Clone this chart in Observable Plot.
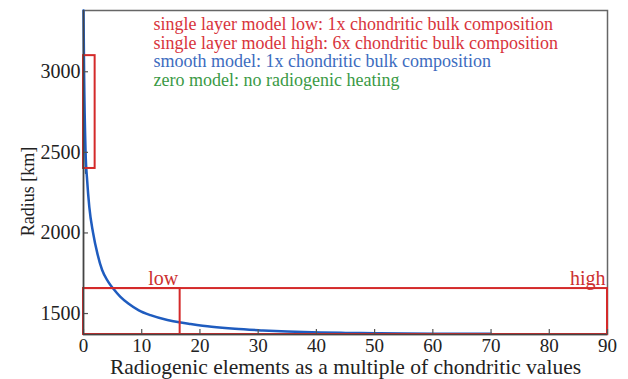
<!DOCTYPE html>
<html>
<head>
<meta charset="utf-8">
<script src="https://cdn.jsdelivr.net/npm/d3@7"></script>
<script src="https://cdn.jsdelivr.net/npm/@observablehq/plot@0.6"></script>
<style>
  html, body { margin: 0; padding: 0; background: #fff; }
  #chart svg { display: block; }
  #chart svg, #chart svg text { font-family: "Liberation Serif", "Times New Roman", serif !important; }
</style>
</head>
<body>
<div id="chart"></div>
<script>
// ---- data ----
const smoothX = [0, 0.1, 0.35, 0.63, 1.0, 1.65, 2.4, 3.2, 4.2, 5.1, 6.3, 7.7, 9.5, 11.5, 14.4, 16.7, 18.4, 22, 26, 30.8, 35, 40.7, 45, 50, 55, 60, 65, 70];
const smoothR = [3380, 3000, 2510, 2325, 2160, 2000, 1870, 1770, 1700, 1655, 1605, 1562, 1520, 1490, 1460, 1444, 1435, 1418, 1405, 1395, 1388, 1382, 1380, 1378, 1376, 1375, 1374, 1374];

const zeroX = [0.05, 0.35];
const zeroR = [2880, 2370];

const boxX1 = [0, 0, 0];
const boxX2 = [2, 16.6, 90];
const boxR1 = [2400, 1370, 1370];
const boxR2 = [3100, 1655, 1655];

const regionLabels = ["low", "high"];
const regionLabelX = [16.6, 90];
const regionLabelR = [1655, 1655];

const legendLabels = [
  "single layer model low: 1x chondritic bulk composition",
  "single layer model high: 6x chondritic bulk composition",
  "smooth model: 1x chondritic bulk composition",
  "zero model: no radiogenic heating"
];
const legendColors = ["#d8343c", "#d8343c", "#3d6cc0", "#3a9a45"];

const xTicks = [0, 10, 20, 30, 40, 50, 60, 70, 80, 90];
const yTicks = [1500, 2000, 2500, 3000];

// ---- build ----
const W = 628, H = 379, mL = 83, mR = 21, mT = 10, mB = 45;
const innerW = W - mL - mR, innerH = H - mT - mB;
const RED = "#d42a2a", BLUE = "#1f5cbf";
const smooth = smoothX.map((x, i) => ({x, r: smoothR[i]}));
const zero = zeroX.map((x, i) => ({x, r: zeroR[i]}));
const boxes = boxX1.map((x1, i) => ({x1, x2: boxX2[i], r1: boxR1[i], r2: boxR2[i]}));
const labels = regionLabels.map((t, i) => ({t, x: regionLabelX[i], r: regionLabelR[i]}));

const legendMarks = legendLabels.map((t, i) => Plot.text([t], {
  text: d => d, frameAnchor: "top-left", dx: 70, dy: 7 + i * 18.5,
  textAnchor: "start", lineAnchor: "top", fill: legendColors[i], fontSize: 18
}));

const chart = Plot.plot({
  width: W, height: H,
  marginLeft: mL, marginRight: mR, marginTop: mT, marginBottom: mB,
  style: {fontSize: "19px", color: "#222", background: "#fff"},
  x: {domain: [0, 90]},
  y: {domain: [1370, 3380]},
  marks: [
    Plot.frame({stroke: "#666", strokeWidth: 1.5}),
    Plot.line(zero, {x: "x", y: "r", stroke: "#2f4a3c", strokeWidth: 1.3}),
    Plot.line(smooth, {x: "x", y: "r", stroke: BLUE, strokeWidth: 2.5, curve: "monotone-x"}),
    Plot.rect(boxes, {x1: "x1", x2: "x2", y1: "r1", y2: "r2", fill: "none", stroke: RED, strokeWidth: 2}),
    Plot.text(labels, {x: "x", y: "r", text: "t", textAnchor: "end", lineAnchor: "bottom", dx: -2, dy: -4, fill: "#cc3030", fontSize: 20}),
    ...legendMarks,
    Plot.tickX(xTicks, {x: d => d, insetTop: innerH - 5, stroke: "#555", strokeWidth: 1.2}),
    Plot.tickY(yTicks, {y: d => d, insetRight: innerW - 5, stroke: "#555", strokeWidth: 1.2}),
    Plot.axisX({ticks: xTicks, tickSize: 0, tickPadding: 4, tickFormat: d => String(d), label: null, fontSize: 19}),
    Plot.axisY({ticks: yTicks, tickSize: 0, tickPadding: 3, tickFormat: d => String(d), label: null, fontSize: 20}),
    Plot.text(["Radiogenic elements as a multiple of chondritic values"], {text: d => d, frameAnchor: "bottom", textAnchor: "middle", lineAnchor: "middle", dy: 33, fontSize: 21.5, fill: "#222"}),
    Plot.text(["Radius [km]"], {text: d => d, frameAnchor: "left", textAnchor: "middle", lineAnchor: "middle", rotate: -90, dx: -55, dy: 19, fontSize: 18, fill: "#222"}),
    Plot.ruleX([0], {stroke: "#444", strokeWidth: 1.5}),
    Plot.ruleY([1370], {stroke: "#444", strokeWidth: 1.5})
  ]
});
document.getElementById("chart").appendChild(chart);
</script>
</body>
</html>
